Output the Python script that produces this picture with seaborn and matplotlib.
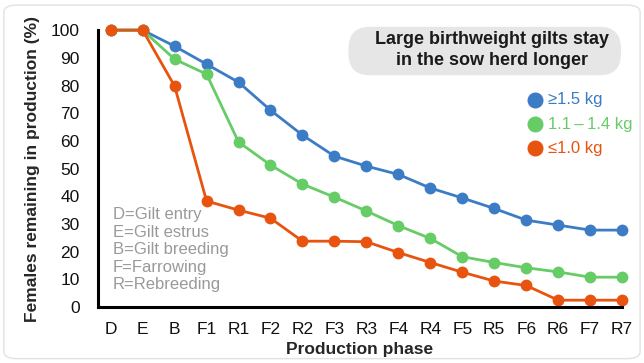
import pandas as pd
import matplotlib.pyplot as plt
import seaborn as sns
from matplotlib.patches import FancyBboxPatch

phases = ['D', 'E', 'B', 'F1', 'R1', 'F2', 'R2', 'F3', 'R3', 'F4', 'R4',
          'F5', 'R5', 'F6', 'R6', 'F7', 'R7']
large = [100, 100, 94.2, 87.7, 81.2, 71.1, 62.1, 54.5, 50.9, 47.9, 43.0,
         39.4, 35.6, 31.4, 29.6, 27.8, 27.8]
medium = [100, 100, 89.5, 84.1, 59.6, 51.3, 44.4, 39.7, 34.7, 29.4, 24.8,
          18.2, 16.1, 14.2, 12.7, 10.8, 10.8]
small = [100, 100, 79.8, 38.3, 35.0, 32.1, 23.8, 23.8, 23.6, 19.7, 16.1,
         12.6, 9.4, 7.8, 2.5, 2.5, 2.5]
groups = ['≥1.5 kg', '1.1\u2009–\u20091.4 kg', '≤1.0 kg']
colors = ['#3b7cc4', '#66cc66', '#e8540f']
notes = ['D=Gilt entry', 'E=Gilt estrus', 'B=Gilt breeding', 'F=Farrowing', 'R=Rebreeding']

rows = []
for g, vals in zip(groups, [large, medium, small]):
    for p, v in zip(phases, vals):
        rows.append({'phase': p, 'pct': v, 'group': g})
df = pd.DataFrame(rows)

sns.set_style('white')
plt.rcParams['font.family'] = ['Liberation Sans', 'DejaVu Sans']

fig = plt.figure(figsize=(6.44, 3.63), dpi=100)
ax = fig.add_axes([0.152, 0.154, 0.814, 0.763])

# rounded light frame round the whole picture
fig.patches.append(FancyBboxPatch((0.006, 0.012), 0.988, 0.974,
                                  boxstyle='round,pad=0,rounding_size=0.02',
                                  transform=fig.transFigure, fc='none',
                                  ec='#e2e2e2', lw=1.0))

sns.lineplot(data=df, x='phase', y='pct', hue='group', palette=colors,
             marker='o', markersize=8.5, markeredgewidth=0, linewidth=2.0,
             sort=False, legend=False, ax=ax, clip_on=False)

ax.set_xlim(-0.4, 16)
ax.set_ylim(0, 100)
ax.set_yticks(range(0, 101, 10))
ax.tick_params(axis='y', length=0, labelsize=12.5, colors='#111111', pad=13)
ax.tick_params(axis='x', length=0, labelsize=12.5, colors='#111111', pad=11)
for s in ['top', 'right']:
    ax.spines[s].set_visible(False)
for s in ['left', 'bottom']:
    ax.spines[s].set_linewidth(2.2)
    ax.spines[s].set_color('black')
ax.set_xlabel('Production phase', fontsize=12.5, fontweight='bold', labelpad=3)
ax.set_ylabel('Females remaining in production (%)', fontsize=12.5,
              fontweight='bold', labelpad=8)

# title box
ax.add_patch(FancyBboxPatch((0.478, 0.837), 0.52, 0.175,
                            boxstyle='round,pad=0,rounding_size=0.04',
                            transform=ax.transAxes, fc='#e6e6e6', ec='none',
                            clip_on=False, mutation_aspect=2.0))
ax.text(0.752, 0.928, 'Large birthweight gilts stay\nin the sow herd longer',
        transform=ax.transAxes, ha='center', va='center', fontsize=13,
        fontweight='bold', color='#1a1a1a', linespacing=1.3)

# legend by hand
for i, (g, c) in enumerate(zip(groups, colors)):
    y = 0.748 - i * 0.087
    ax.plot([0.833], [y], 'o', color=c, markersize=10.5, transform=ax.transAxes, clip_on=False)
    ax.text(0.858, y, g, transform=ax.transAxes, color=c, fontsize=12, va='center')

# abbreviations
ax.text(0.028, 0.36, '\n'.join(notes), transform=ax.transAxes, ha='left', va='top',
        fontsize=12, color='#999999', linespacing=1.2)

fig.savefig('out.png', dpi=100)
